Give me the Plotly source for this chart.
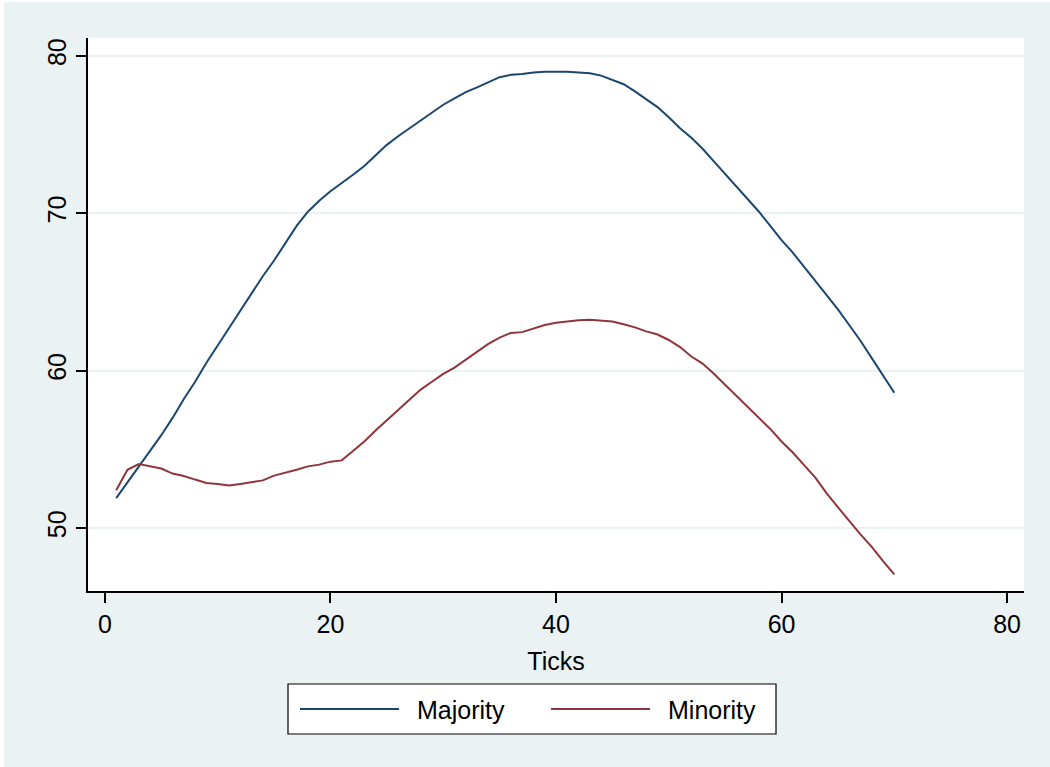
import plotly.graph_objects as go

ticks = list(range(1, 71))
majority = [51.9, 52.9, 53.9, 54.9, 55.9, 57.0, 58.2, 59.3, 60.5, 61.6,
            62.7, 63.8, 64.9, 66.0, 67.0, 68.1, 69.2, 70.1, 70.8, 71.4,
            71.9, 72.45, 73.0, 73.7, 74.35, 74.9, 75.4, 75.9, 76.4, 76.9,
            77.3, 77.7, 78.0, 78.35, 78.65, 78.8, 78.85, 78.95, 79.0, 79.0,
            79.0, 78.95, 78.9, 78.75, 78.5, 78.2, 77.75, 77.25, 76.75, 76.1,
            75.4, 74.8, 74.1, 73.3, 72.5, 71.7, 70.9, 70.1, 69.2, 68.3,
            67.5, 66.6, 65.7, 64.8, 63.9, 62.9, 61.9, 60.8, 59.7, 58.6]
minority = [52.4, 53.7, 54.07, 53.92, 53.78, 53.46, 53.31, 53.08, 52.87, 52.8,
            52.7, 52.8, 52.9, 53.03, 53.33, 53.5, 53.71, 53.92, 54.03, 54.22,
            54.3, 54.9, 55.5, 56.2, 56.85, 57.5, 58.1, 58.8, 59.3, 59.8,
            60.2, 60.7, 61.2, 61.7, 62.1, 62.4, 62.45, 62.7, 62.9, 63.05,
            63.13, 63.2, 63.24, 63.2, 63.13, 62.95, 62.75, 62.5, 62.3, 61.95,
            61.5, 60.9, 60.45, 59.8, 59.1, 58.4, 57.7, 57.0, 56.3, 55.5,
            54.8, 54.0, 53.2, 52.2, 51.3, 50.45, 49.6, 48.8, 47.9, 47.05]
series_names = ["Majority", "Minority"]
colors = ["#1A476F", "#90353B"]
x_ticks = [0, 20, 40, 60, 80]
y_ticks = [50, 60, 70, 80]

FONT = "Liberation Sans, Arial, Helvetica, sans-serif"
BG = "#EAF2F3"

fig = go.Figure()
for name, vals, col in zip(series_names, [majority, minority], colors):
    fig.add_trace(go.Scatter(x=ticks, y=vals, mode="lines", name=name,
                             line=dict(color=col, width=2), showlegend=False))

W, H = 1050, 767
L, R, T, B = 88, 1024, 38, 591
pw, ph = R - L, B - T

def px(x):
    return (x - L) / pw

def py(y):
    return (B - y) / ph

shapes = []
annotations = []
# legend box
shapes.append(dict(type="rect", xref="paper", yref="paper",
                   x0=px(288), x1=px(776), y0=py(734), y1=py(684),
                   line=dict(color="black", width=1.2), fillcolor="white", layer="above"))
leg_items = [(300, 399, 415), (551, 650, 666)]
for (lx0, lx1, tx), name, col in zip(leg_items, series_names, colors):
    shapes.append(dict(type="line", xref="paper", yref="paper",
                       x0=px(lx0), x1=px(lx1), y0=py(709), y1=py(709),
                       line=dict(color=col, width=2), layer="above"))
    annotations.append(dict(xref="paper", yref="paper", x=px(tx), y=py(710),
                            xanchor="left", yanchor="middle", text=name,
                            showarrow=False, font=dict(family=FONT, size=25, color="black")))
# thin white frame at top/left like the reference
shapes.append(dict(type="rect", xref="paper", yref="paper",
                   x0=px(0), x1=px(4), y0=py(767), y1=py(0),
                   line=dict(width=0), fillcolor="white", layer="below"))
shapes.append(dict(type="rect", xref="paper", yref="paper",
                   x0=px(0), x1=px(1050), y0=py(2), y1=py(0),
                   line=dict(width=0), fillcolor="white", layer="below"))

fig.update_layout(
    width=W, height=H,
    margin=dict(l=L, r=W - R, t=T, b=H - B, pad=0),
    paper_bgcolor=BG, plot_bgcolor="white",
    font=dict(family=FONT, size=25, color="black"),
    shapes=shapes, annotations=annotations,
    showlegend=False,
    xaxis=dict(range=[-1.5, 81.5], tickvals=x_ticks, showgrid=False, zeroline=False,
               showline=True, linecolor="black", linewidth=1.5,
               ticks="outside", ticklen=10, tickwidth=1.5, tickcolor="black",
               tickfont=dict(family=FONT, size=25),
               title=dict(text="Ticks", font=dict(family=FONT, size=25), standoff=16)),
    yaxis=dict(range=[46.0, 81.14], tickvals=y_ticks, tickangle=-90,
               showgrid=True, gridcolor=BG, gridwidth=1.5, zeroline=False,
               showline=True, linecolor="black", linewidth=1.5,
               ticks="outside", ticklen=10, tickwidth=1.5, tickcolor="black",
               tickfont=dict(family=FONT, size=25)),
)

fig.write_html("out.html")
